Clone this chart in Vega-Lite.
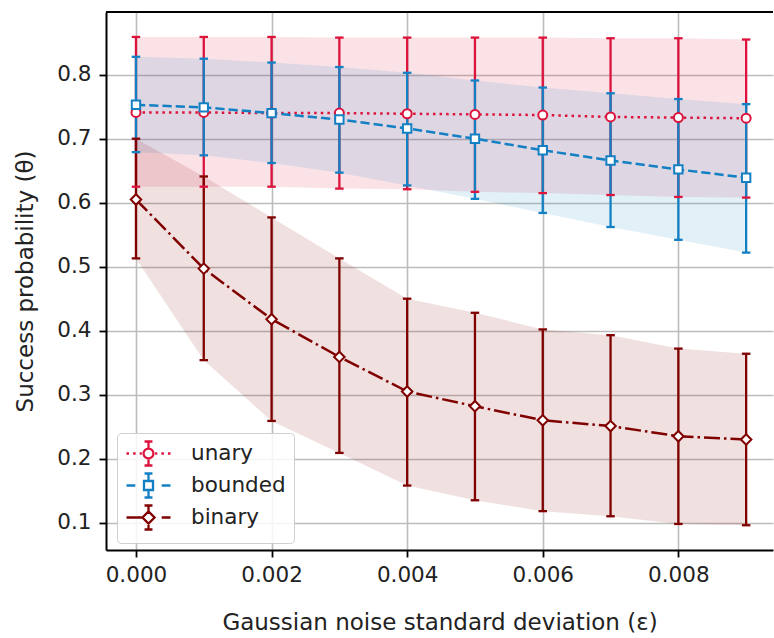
{
  "$schema": "https://vega.github.io/schema/vega-lite/v6.json",
  "width": 667,
  "height": 538,
  "padding": {"left": 14, "top": 11, "right": 0, "bottom": 4},
  "background": "white",
  "config": {
    "view": {"stroke": null},
    "axis": {
      "labelFont": "DejaVu Sans", "labelFontSize": 21.5, "labelColor": "#222222",
      "titleFont": "DejaVu Sans", "titleFontSize": 23, "titleFontWeight": "normal", "titleColor": "#222222",
      "tickColor": "#000000", "tickWidth": 1.8, "tickSize": 7,
      "domainColor": "#000000", "domainWidth": 2,
      "gridColor": "#bcbcbc", "gridWidth": 1.6
    },
    "legend": {
      "labelFont": "DejaVu Sans", "labelFontSize": 21.5, "labelColor": "#222222",
      "symbolSize": 484, "symbolOffset": 11, "labelOffset": 30,
      "padding": 8, "rowPadding": -3,
      "fillColor": "rgba(255,255,255,0.85)", "strokeColor": "#cfcfcf", "cornerRadius": 4,
      "symbolStrokeWidth": 2.3, "symbolOpacity": 1, "symbolFillColor": "white"
    }
  },
  "data": {"values": [
    {"s": "unary", "x": 0.000, "m": 0.741, "lo": 0.625, "hi": 0.859},
    {"s": "unary", "x": 0.001, "m": 0.741, "lo": 0.625, "hi": 0.859},
    {"s": "unary", "x": 0.002, "m": 0.740, "lo": 0.625, "hi": 0.859},
    {"s": "unary", "x": 0.003, "m": 0.740, "lo": 0.622, "hi": 0.858},
    {"s": "unary", "x": 0.004, "m": 0.739, "lo": 0.621, "hi": 0.858},
    {"s": "unary", "x": 0.005, "m": 0.738, "lo": 0.617, "hi": 0.858},
    {"s": "unary", "x": 0.006, "m": 0.737, "lo": 0.615, "hi": 0.858},
    {"s": "unary", "x": 0.007, "m": 0.734, "lo": 0.612, "hi": 0.857},
    {"s": "unary", "x": 0.008, "m": 0.733, "lo": 0.609, "hi": 0.857},
    {"s": "unary", "x": 0.009, "m": 0.732, "lo": 0.608, "hi": 0.855},
    {"s": "bounded", "x": 0.000, "m": 0.753, "lo": 0.679, "hi": 0.828},
    {"s": "bounded", "x": 0.001, "m": 0.749, "lo": 0.674, "hi": 0.825},
    {"s": "bounded", "x": 0.002, "m": 0.740, "lo": 0.662, "hi": 0.819},
    {"s": "bounded", "x": 0.003, "m": 0.730, "lo": 0.647, "hi": 0.812},
    {"s": "bounded", "x": 0.004, "m": 0.716, "lo": 0.627, "hi": 0.803},
    {"s": "bounded", "x": 0.005, "m": 0.700, "lo": 0.606, "hi": 0.791},
    {"s": "bounded", "x": 0.006, "m": 0.682, "lo": 0.584, "hi": 0.780},
    {"s": "bounded", "x": 0.007, "m": 0.666, "lo": 0.562, "hi": 0.771},
    {"s": "bounded", "x": 0.008, "m": 0.652, "lo": 0.542, "hi": 0.762},
    {"s": "bounded", "x": 0.009, "m": 0.639, "lo": 0.522, "hi": 0.754},
    {"s": "binary", "x": 0.000, "m": 0.605, "lo": 0.513, "hi": 0.700},
    {"s": "binary", "x": 0.001, "m": 0.497, "lo": 0.354, "hi": 0.641},
    {"s": "binary", "x": 0.002, "m": 0.418, "lo": 0.259, "hi": 0.577},
    {"s": "binary", "x": 0.003, "m": 0.359, "lo": 0.209, "hi": 0.513},
    {"s": "binary", "x": 0.004, "m": 0.305, "lo": 0.158, "hi": 0.450},
    {"s": "binary", "x": 0.005, "m": 0.282, "lo": 0.135, "hi": 0.428},
    {"s": "binary", "x": 0.006, "m": 0.260, "lo": 0.118, "hi": 0.402},
    {"s": "binary", "x": 0.007, "m": 0.251, "lo": 0.110, "hi": 0.393},
    {"s": "binary", "x": 0.008, "m": 0.235, "lo": 0.098, "hi": 0.372},
    {"s": "binary", "x": 0.009, "m": 0.230, "lo": 0.096, "hi": 0.364}
  ]},
  "layer": [
    {
      "mark": {"type": "area", "fillOpacity": 0.12},
      "encoding": {
        "x": {"field": "x", "type": "quantitative", "scale": {"domain": [-0.000442, 0.009396], "nice": false, "zero": false},
              "axis": {"values": [0, 0.002, 0.004, 0.006, 0.008], "format": ".3f", "labelPadding": 7, "titlePadding": 26, "title": "Gaussian noise standard deviation (ε)"}},
        "y": {"field": "hi", "type": "quantitative", "scale": {"domain": [0.0573, 0.898], "nice": false, "zero": false},
              "axis": {"values": [0.1, 0.2, 0.3, 0.4, 0.5, 0.6, 0.7, 0.8], "format": ".1f", "labelPadding": 8, "titlePadding": 19, "title": "Success probability (θ)"}},
        "y2": {"field": "lo"},
        "fill": {"field": "s", "type": "nominal", "scale": {"domain": ["unary", "bounded", "binary", "_"], "range": ["#dc143c", "#1480c4", "#800000", "#000000"]}, "legend": null}
      }
    },
    {
      "mark": {"type": "rule", "strokeWidth": 2.3},
      "encoding": {
        "x": {"field": "x", "type": "quantitative", "scale": {"domain": [-0.000442, 0.009396], "nice": false, "zero": false},
              "axis": {"values": [0, 0.002, 0.004, 0.006, 0.008], "format": ".3f", "labelPadding": 7, "titlePadding": 26, "title": "Gaussian noise standard deviation (ε)"}},
        "y": {"field": "lo", "type": "quantitative", "scale": {"domain": [0.0573, 0.898], "nice": false, "zero": false},
              "axis": {"values": [0.1, 0.2, 0.3, 0.4, 0.5, 0.6, 0.7, 0.8], "format": ".1f", "labelPadding": 8, "titlePadding": 19, "title": "Success probability (θ)"}},
        "y2": {"field": "hi"},
        "color": {"field": "s", "type": "nominal", "scale": {"domain": ["unary", "bounded", "binary"], "range": ["#dc143c", "#1480c4", "#800000"]},
          "legend": {"title": null, "orient": "none", "legendX": 11, "legendY": 421, "direction": "vertical"}}
      }
    },
    {
      "mark": {"type": "tick", "orient": "horizontal", "size": 8.5, "thickness": 2.3, "opacity": 1},
      "encoding": {
        "x": {"field": "x", "type": "quantitative", "scale": {"domain": [-0.000442, 0.009396], "nice": false, "zero": false},
              "axis": {"values": [0, 0.002, 0.004, 0.006, 0.008], "format": ".3f", "labelPadding": 7, "titlePadding": 26, "title": "Gaussian noise standard deviation (ε)"}},
        "y": {"field": "lo", "type": "quantitative", "scale": {"domain": [0.0573, 0.898], "nice": false, "zero": false},
              "axis": {"values": [0.1, 0.2, 0.3, 0.4, 0.5, 0.6, 0.7, 0.8], "format": ".1f", "labelPadding": 8, "titlePadding": 19, "title": "Success probability (θ)"}},
        "fill": {"field": "s", "type": "nominal", "scale": {"domain": ["unary", "bounded", "binary", "_"], "range": ["#dc143c", "#1480c4", "#800000", "#000000"]}, "legend": null}
      }
    },
    {
      "mark": {"type": "tick", "orient": "horizontal", "size": 8.5, "thickness": 2.3, "opacity": 1},
      "encoding": {
        "x": {"field": "x", "type": "quantitative", "scale": {"domain": [-0.000442, 0.009396], "nice": false, "zero": false},
              "axis": {"values": [0, 0.002, 0.004, 0.006, 0.008], "format": ".3f", "labelPadding": 7, "titlePadding": 26, "title": "Gaussian noise standard deviation (ε)"}},
        "y": {"field": "hi", "type": "quantitative", "scale": {"domain": [0.0573, 0.898], "nice": false, "zero": false},
              "axis": {"values": [0.1, 0.2, 0.3, 0.4, 0.5, 0.6, 0.7, 0.8], "format": ".1f", "labelPadding": 8, "titlePadding": 19, "title": "Success probability (θ)"}},
        "fill": {"field": "s", "type": "nominal", "scale": {"domain": ["unary", "bounded", "binary", "_"], "range": ["#dc143c", "#1480c4", "#800000", "#000000"]}, "legend": null}
      }
    },
    {
      "mark": {"type": "line", "strokeWidth": 2.5},
      "encoding": {
        "x": {"field": "x", "type": "quantitative", "scale": {"domain": [-0.000442, 0.009396], "nice": false, "zero": false},
              "axis": {"values": [0, 0.002, 0.004, 0.006, 0.008], "format": ".3f", "labelPadding": 7, "titlePadding": 26, "title": "Gaussian noise standard deviation (ε)"}},
        "y": {"field": "m", "type": "quantitative", "scale": {"domain": [0.0573, 0.898], "nice": false, "zero": false},
              "axis": {"values": [0.1, 0.2, 0.3, 0.4, 0.5, 0.6, 0.7, 0.8], "format": ".1f", "labelPadding": 8, "titlePadding": 19, "title": "Success probability (θ)"}},
        "color": {"field": "s", "type": "nominal", "scale": {"domain": ["unary", "bounded", "binary"], "range": ["#dc143c", "#1480c4", "#800000"]},
          "legend": {"title": null, "orient": "none", "legendX": 11, "legendY": 421, "direction": "vertical"}},
        "strokeDash": {"condition": [{"test": "datum.s === 'unary'", "value": [2.5, 4.1]}, {"test": "datum.s === 'bounded'", "value": [9.25, 4]}], "value": [16, 4, 2.5, 4]}
      }
    },
    {
      "mark": {"type": "point", "strokeWidth": 2, "opacity": 1, "filled": false},
      "encoding": {
        "x": {"field": "x", "type": "quantitative", "scale": {"domain": [-0.000442, 0.009396], "nice": false, "zero": false},
              "axis": {"values": [0, 0.002, 0.004, 0.006, 0.008], "format": ".3f", "labelPadding": 7, "titlePadding": 26, "title": "Gaussian noise standard deviation (ε)"}},
        "y": {"field": "m", "type": "quantitative", "scale": {"domain": [0.0573, 0.898], "nice": false, "zero": false},
              "axis": {"values": [0.1, 0.2, 0.3, 0.4, 0.5, 0.6, 0.7, 0.8], "format": ".1f", "labelPadding": 8, "titlePadding": 19, "title": "Success probability (θ)"}},
        "color": {"field": "s", "type": "nominal", "scale": {"domain": ["unary", "bounded", "binary"], "range": ["#dc143c", "#1480c4", "#800000"]},
          "legend": {"title": null, "orient": "none", "legendX": 11, "legendY": 421, "direction": "vertical"}},
        "fill": {"value": "white"},
        "shape": {"condition": [{"test": "datum.s === 'unary'", "value": "circle"}, {"test": "datum.s === 'bounded'", "value": "square"}], "value": "diamond"},
        "size": {"condition": [{"test": "datum.s === 'unary'", "value": 81}, {"test": "datum.s === 'bounded'", "value": 70}], "value": 110}
      }
    },
    {
      "mark": {"type": "point", "opacity": 0, "filled": false},
      "encoding": {
        "x": {"field": "x", "type": "quantitative", "scale": {"domain": [-0.000442, 0.009396], "nice": false, "zero": false},
              "axis": {"values": [0, 0.002, 0.004, 0.006, 0.008], "format": ".3f", "labelPadding": 7, "titlePadding": 26, "title": "Gaussian noise standard deviation (ε)"}},
        "y": {"field": "m", "type": "quantitative", "scale": {"domain": [0.0573, 0.898], "nice": false, "zero": false},
              "axis": {"values": [0.1, 0.2, 0.3, 0.4, 0.5, 0.6, 0.7, 0.8], "format": ".1f", "labelPadding": 8, "titlePadding": 19, "title": "Success probability (θ)"}},
        "color": {"field": "s", "type": "nominal", "scale": {"domain": ["unary", "bounded", "binary"], "range": ["#dc143c", "#1480c4", "#800000"]},
          "legend": {"title": null, "orient": "none", "legendX": 11, "legendY": 421, "direction": "vertical"}},
        "shape": {"field": "s", "type": "nominal",
          "scale": {"domain": ["unary", "bounded", "binary"], "range": [
            "M-2,0H-1.77M-1.4,0H-1.17M-0.8,0H-0.6M0.6,0H0.8M1.17,0H1.4M1.77,0H2M0,-1.09V-0.45M0,0.45V1.09M-0.36,-1.09H0.36M-0.36,1.09H0.36M0.45,0A0.45,0.45 0 1,1 -0.45,0A0.45,0.45 0 1,1 0.45,0Z",
            "M-2,0H-1.2M1.2,0H2M0,-1.09V-0.41M0,0.41V1.09M-0.36,-1.09H0.36M-0.36,1.09H0.36M-0.41,-0.41H0.41V0.41H-0.41Z",
            "M-2,0H-0.55M1.2,0H2M0,-1.09V-0.55M0,0.55V1.09M-0.36,-1.09H0.36M-0.36,1.09H0.36M-0.55,0L0,-0.55L0.55,0L0,0.55Z"
          ]},
          "legend": {"title": null, "orient": "none", "legendX": 11, "legendY": 421, "direction": "vertical"}}
      }
    },
    {
      "mark": {"type": "rule", "strokeWidth": 2, "color": "#000000"},
      "encoding": {
        "y": {"datum": 0.898, "type": "quantitative", "scale": {"domain": [0.0573, 0.898], "nice": false, "zero": false},
              "axis": {"values": [0.1, 0.2, 0.3, 0.4, 0.5, 0.6, 0.7, 0.8], "format": ".1f", "labelPadding": 8, "titlePadding": 19, "title": "Success probability (θ)"}}
      }
    }
  ]
}
